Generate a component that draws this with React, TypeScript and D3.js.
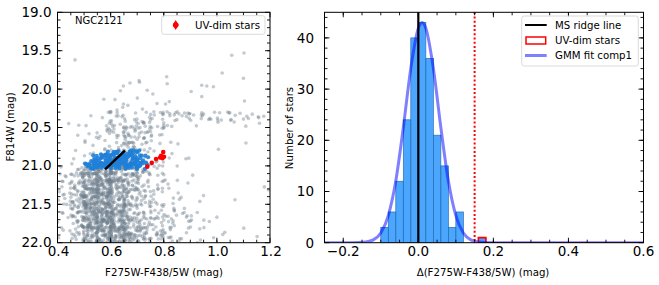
import * as d3 from "d3";
import { useEffect, useRef } from "react";

// ---------- left panel: CMD of NGC2121 ----------
// grey stars, counted per cell (left colour edge, width 0.05 / top mag edge, height 0.1)
const cmdColorBins = [0.40, 0.45, 0.50, 0.55, 0.60, 0.65, 0.70, 0.75, 0.80, 0.85, 0.90, 0.95, 1.00, 1.05, 1.10, 1.15];
const cmdMagBins = [20.0, 20.1, 20.2, 20.3, 20.4, 20.5, 20.6, 20.7, 20.8, 20.9, 21.0, 21.1, 21.2, 21.3, 21.4, 21.5, 21.6, 21.7, 21.8, 21.9];
const cmdCounts = [
  [0, 0, 0, 0, 1, 0, 1, 1, 0, 0, 1, 0, 0, 0, 0, 0],
  [0, 0, 0, 1, 2, 1, 0, 1, 1, 0, 1, 0, 0, 0, 1, 0],
  [0, 0, 0, 1, 3, 2, 1, 0, 1, 0, 0, 0, 0, 0, 0, 0],
  [0, 0, 1, 2, 4, 4, 3, 6, 9, 8, 7, 6, 5, 4, 3, 3],
  [1, 1, 1, 3, 5, 8, 10, 6, 2, 1, 1, 1, 1, 2, 1, 1],
  [0, 1, 2, 3, 6, 10, 8, 2, 0, 0, 0, 0, 0, 0, 0, 0],
  [0, 0, 2, 3, 5, 10, 7, 1, 0, 0, 0, 0, 0, 0, 0, 0],
  [0, 1, 2, 3, 8, 10, 4, 1, 1, 1, 0, 0, 1, 0, 1, 0],
  [0, 1, 3, 4, 6, 6, 3, 1, 1, 1, 0, 0, 0, 0, 0, 0],
  [0, 1, 4, 8, 8, 8, 5, 2, 3, 1, 0, 0, 0, 0, 0, 0],
  [2, 8, 26, 30, 28, 18, 7, 3, 1, 0, 0, 0, 0, 0, 0, 0],
  [3, 12, 28, 32, 26, 16, 7, 4, 2, 0, 1, 0, 0, 0, 0, 0],
  [3, 14, 30, 32, 24, 14, 7, 4, 2, 1, 0, 0, 0, 0, 0, 1],
  [3, 15, 32, 32, 22, 12, 7, 4, 2, 0, 1, 0, 0, 0, 0, 1],
  [3, 15, 32, 32, 22, 12, 7, 5, 2, 2, 1, 0, 0, 1, 0, 0],
  [2, 13, 32, 34, 24, 14, 8, 5, 3, 2, 0, 0, 0, 0, 0, 0],
  [2, 11, 30, 36, 28, 16, 9, 6, 5, 3, 2, 0, 1, 0, 0, 0],
  [2, 9, 28, 36, 30, 18, 10, 6, 5, 3, 1, 2, 0, 0, 0, 0],
  [1, 7, 26, 36, 32, 22, 12, 7, 6, 3, 1, 0, 1, 1, 0, 0],
  [1, 6, 22, 34, 34, 24, 14, 8, 6, 3, 2, 1, 1, 0, 0, 1],
];
// isolated bright stars above mag 20
const brightStars = [
  [0.466, 19.62], [0.648, 19.96], [0.673, 19.92], [0.707, 19.89], [0.709, 19.91],
  [0.811, 19.84], [0.813, 19.93], [1.056, 19.56], [1.102, 19.53], [1.02, 19.79],
  [1.1, 19.86], [0.943, 19.95], [0.962, 19.96], [0.987, 19.97],
];
// selected MS stars (blue), per cell (colour width 0.02 / mag height 0.06)
const selColorBins = [0.50, 0.52, 0.54, 0.56, 0.58, 0.60, 0.62, 0.64, 0.66, 0.68, 0.70, 0.72];
const selMagBins = [20.80, 20.86, 20.92, 20.98];
const selCounts = [
  [0, 0, 0, 2, 3, 4, 4, 4, 4, 3, 2, 0],
  [0, 1, 3, 5, 6, 6, 6, 6, 6, 5, 4, 2],
  [2, 4, 6, 6, 6, 6, 6, 6, 6, 6, 5, 3],
  [3, 5, 6, 6, 6, 6, 6, 6, 6, 6, 5, 2],
];
const uvDimStars = [
  [0.798, 20.82], [0.790, 20.87], [0.786, 20.89], [0.795, 20.90], [0.801, 20.88],
  [0.771, 20.91], [0.755, 20.96], [0.738, 21.01],
];
const ridgeLine = [[0.579, 21.044], [0.654, 20.80]];

// ---------- right panel: histogram of colour offsets ----------
const histBinStarts = [-0.10, -0.08, -0.06, -0.04, -0.02, 0.0, 0.02, 0.04, 0.06, 0.08, 0.10, 0.16];
const histCounts = [3, 6, 12, 24, 40, 43, 36, 21, 15, 3, 6, 1];
const histBinWidth = 0.02;
const uvDimBin = [0.16, 1];
const gmmX = [-0.25, -0.18, -0.16, -0.14, -0.12, -0.10, -0.08, -0.06, -0.04, -0.02, 0.0, 0.01, 0.02, 0.04, 0.06, 0.08, 0.10, 0.12, 0.14, 0.16, 0.18, 0.20, 0.6];
const gmmY = [0, 0, 0.02, 0.13, 0.55, 1.9, 5.3, 12.1, 22.5, 34.1, 41.9, 43, 41.9, 34.1, 22.5, 12.1, 5.3, 1.9, 0.55, 0.13, 0.02, 0, 0];
const msRidgeDelta = 0.0;
const uvDimCut = 0.15;

const FONT = "DejaVu Sans, sans-serif";
const TOP = 12.3;
const BOTTOM = 242.7;

// spot of the k-th star inside its cell, in [0,1)
const spot = (a: number) => {
  let h = Math.imul(a ^ 0x9e3779b9, 0x85ebca6b);
  h ^= h >>> 13;
  h = Math.imul(h, 0xc2b2ae35);
  h ^= h >>> 16;
  return (h >>> 0) / 4294967296;
};

const App = () => {
  const svgRef = useRef<SVGSVGElement>(null);

  useEffect(() => {
    if (!svgRef.current) return;
    const svg = d3.select(svgRef.current);
    svg.selectAll("*").remove();

    // ticks on all four sides, pointing inward
    const ticks = (g: any, x: any, y: any, xMaj: number[], xMin: number[], yMaj: number[], yMin: number[]) => {
      const [x0, x1] = x.range();
      const add = (v: number[], len: number, horiz: boolean) => {
        v.forEach((t) => {
          if (horiz) {
            const px = x(t);
            g.append("line").attr("x1", px).attr("x2", px).attr("y1", BOTTOM).attr("y2", BOTTOM - len);
            g.append("line").attr("x1", px).attr("x2", px).attr("y1", TOP).attr("y2", TOP + len);
          } else {
            const py = y(t);
            g.append("line").attr("x1", x0).attr("x2", x0 + len).attr("y1", py).attr("y2", py);
            g.append("line").attr("x1", x1).attr("x2", x1 - len).attr("y1", py).attr("y2", py);
          }
        });
      };
      add(xMaj, 5, true);
      add(xMin, 3, true);
      add(yMaj, 5, false);
      add(yMin, 3, false);
      g.selectAll("line").attr("stroke", "black").attr("stroke-width", 0.9);
      g.append("rect").attr("x", x0).attr("y", TOP).attr("width", x1 - x0).attr("height", BOTTOM - TOP)
        .attr("fill", "none").attr("stroke", "black").attr("stroke-width", 1);
    };

    const scatterCells = (counts: number[][], cols: number[], rows: number[], w: number, h: number, seed: number) => {
      const out: number[][] = [];
      counts.forEach((row, ri) => {
        row.forEach((n, ci) => {
          for (let k = 0; k < n; k++) {
            const key = seed + ri * 100000 + ci * 1000 + k * 2;
            out.push([cols[ci] + (spot(key) * 1.2 - 0.1) * w, rows[ri] + (spot(key + 1) * 1.2 - 0.1) * h]);
          }
        });
      });
      return out;
    };

    // ===== left panel =====
    const xL = d3.scaleLinear().domain([0.4, 1.2]).range([57.5, 270]);
    const yL = d3.scaleLinear().domain([19, 22]).range([TOP, BOTTOM]);

    svg.append("clipPath").attr("id", "clipL").append("rect")
      .attr("x", 57.5).attr("y", TOP).attr("width", 270 - 57.5).attr("height", BOTTOM - TOP);
    const left = svg.append("g").attr("clip-path", "url(#clipL)");

    const grey = brightStars.concat(scatterCells(cmdCounts, cmdColorBins, cmdMagBins, 0.05, 0.1, 7));
    left.selectAll(".grey").data(grey).enter().append("circle")
      .attr("cx", (d) => xL(d[0])).attr("cy", (d) => yL(d[1])).attr("r", 1.8)
      .attr("fill", "#708090").attr("fill-opacity", 0.42);

    const sel = scatterCells(selCounts, selColorBins, selMagBins, 0.02, 0.06, 3000000);
    left.selectAll(".sel").data(sel).enter().append("circle")
      .attr("cx", (d) => xL(d[0])).attr("cy", (d) => yL(Math.min(d[1], 21.04))).attr("r", 2.1)
      .attr("fill", "#1f7fd8").attr("fill-opacity", 0.9);

    left.append("path").datum(ridgeLine)
      .attr("d", d3.line<number[]>().x((d) => xL(d[0])).y((d) => yL(d[1])))
      .attr("stroke", "black").attr("stroke-width", 2.4).attr("fill", "none");

    left.selectAll(".uv").data(uvDimStars).enter().append("circle")
      .attr("cx", (d) => xL(d[0])).attr("cy", (d) => yL(d[1])).attr("r", 2.3).attr("fill", "red");

    const tl = svg.append("g");
    ticks(tl, xL, yL, d3.range(0.4, 1.21, 0.2), d3.range(0.45, 1.2, 0.05), d3.range(19, 22.01, 0.5), d3.range(19.1, 22, 0.1));

    const f1 = d3.format(".1f");
    [0.4, 0.6, 0.8, 1.0, 1.2].forEach((t) => {
      svg.append("text").attr("x", xL(t) + 1).attr("y", 256).attr("text-anchor", "middle")
        .attr("font-family", FONT).attr("font-size", 13.5).text(f1(t));
    });
    [19, 19.5, 20, 20.5, 21, 21.5, 22].forEach((t) => {
      svg.append("text").attr("x", 51.5).attr("y", yL(t) + 4.5).attr("text-anchor", "end")
        .attr("font-family", FONT).attr("font-size", 13.5).text(f1(t));
    });
    svg.append("text").attr("x", 164).attr("y", 276).attr("text-anchor", "middle")
      .attr("font-family", FONT).attr("font-size", 10.2).text("F275W-F438/5W (mag)");
    svg.append("text").attr("transform", "translate(14,127) rotate(-90)").attr("text-anchor", "middle")
      .attr("font-family", FONT).attr("font-size", 10.2).text("F814W (mag)");
    svg.append("text").attr("x", 75).attr("y", 24)
      .attr("font-family", FONT).attr("font-size", 10).text("NGC2121");

    // left legend
    svg.append("rect").attr("x", 161.7).attr("y", 15.7).attr("width", 103.3).attr("height", 18.6).attr("rx", 2.5)
      .attr("fill", "white").attr("fill-opacity", 0.8).attr("stroke", "#d0d0d0").attr("stroke-width", 0.8);
    svg.append("path").attr("d", d3.symbol(d3.symbolDiamond, 30)()).attr("transform", "translate(175.7,25)").attr("fill", "red");
    svg.append("circle").attr("cx", 175.7).attr("cy", 25).attr("r", 2.8).attr("fill", "red");
    svg.append("text").attr("x", 195).attr("y", 28.6).attr("font-family", FONT).attr("font-size", 10.2).text("UV-dim stars");

    // ===== right panel =====
    const xR = d3.scaleLinear().domain([-0.25, 0.6]).range([324.5, 643.5]);
    const yR = d3.scaleLinear().domain([0, 45]).range([BOTTOM, TOP]);

    svg.append("clipPath").attr("id", "clipR").append("rect")
      .attr("x", 324.5).attr("y", TOP).attr("width", 643.5 - 324.5).attr("height", BOTTOM - TOP);
    const right = svg.append("g").attr("clip-path", "url(#clipR)");

    right.selectAll(".bar").data(histBinStarts.map((s, i) => [s, histCounts[i]])).enter().append("rect")
      .attr("x", (d) => xR(d[0])).attr("width", (d) => xR(d[0] + histBinWidth) - xR(d[0]))
      .attr("y", (d) => yR(d[1])).attr("height", (d) => yR(0) - yR(d[1]))
      .attr("fill", "#1e90ff").attr("fill-opacity", 0.8).attr("stroke", "#2a6fae").attr("stroke-width", 0.7);

    // UV-dim step histogram (outline plus its baseline)
    right.append("path")
      .attr("d", d3.line()([
        [xR(uvDimBin[0]), yR(0)], [xR(uvDimBin[0]), yR(uvDimBin[1])],
        [xR(uvDimBin[0] + histBinWidth), yR(uvDimBin[1])], [xR(uvDimBin[0] + histBinWidth), yR(0)],
        [xR(0.6), yR(0)],
      ]))
      .attr("fill", "none").attr("stroke", "red").attr("stroke-width", 1.6);
    right.append("line").attr("x1", xR(uvDimBin[0])).attr("x2", xR(uvDimBin[0] + histBinWidth))
      .attr("y1", yR(0)).attr("y2", yR(0)).attr("stroke", "red").attr("stroke-width", 1.6);

    right.append("path").datum(gmmX.map((x, i) => [x, gmmY[i]]))
      .attr("d", d3.line<number[]>().x((d) => xR(d[0])).y((d) => yR(d[1])).curve(d3.curveMonotoneX))
      .attr("fill", "none").attr("stroke", "blue").attr("stroke-opacity", 0.5).attr("stroke-width", 3);

    right.append("line").attr("x1", xR(msRidgeDelta)).attr("x2", xR(msRidgeDelta)).attr("y1", TOP).attr("y2", BOTTOM)
      .attr("stroke", "black").attr("stroke-width", 2.2);
    right.append("line").attr("x1", xR(uvDimCut)).attr("x2", xR(uvDimCut)).attr("y1", TOP).attr("y2", BOTTOM)
      .attr("stroke", "red").attr("stroke-width", 2).attr("stroke-dasharray", "2,2.2");

    const tr = svg.append("g");
    ticks(tr, xR, yR, d3.range(-0.2, 0.61, 0.2), d3.range(-0.25, 0.6, 0.05), d3.range(0, 41, 10), d3.range(2, 45, 2));

    [-0.2, 0.0, 0.2, 0.4, 0.6].forEach((t) => {
      svg.append("text").attr("x", xR(t)).attr("y", 256).attr("text-anchor", "middle")
        .attr("font-family", FONT).attr("font-size", 13.5).text(f1(t));
    });
    [0, 10, 20, 30, 40].forEach((t) => {
      svg.append("text").attr("x", 314).attr("y", yR(t) + 4.8).attr("text-anchor", "end")
        .attr("font-family", FONT).attr("font-size", 13.5).text(String(t));
    });
    svg.append("text").attr("x", 483).attr("y", 276).attr("text-anchor", "middle")
      .attr("font-family", FONT).attr("font-size", 10.2).text("Δ(F275W-F438/5W) (mag)");
    svg.append("text").attr("transform", "translate(293,128) rotate(-90)").attr("text-anchor", "middle")
      .attr("font-family", FONT).attr("font-size", 10.2).text("Number of stars");

    // right legend
    svg.append("rect").attr("x", 521.7).attr("y", 16).attr("width", 116.6).attr("height", 50).attr("rx", 2.5)
      .attr("fill", "white").attr("fill-opacity", 0.8).attr("stroke", "#d0d0d0").attr("stroke-width", 0.8);
    const legendRows = [25, 40.5, 55.5];
    svg.append("line").attr("x1", 525).attr("x2", 546.7).attr("y1", legendRows[0]).attr("y2", legendRows[0])
      .attr("stroke", "black").attr("stroke-width", 2);
    svg.append("rect").attr("x", 526).attr("y", legendRows[1] - 3.5).attr("width", 19.7).attr("height", 7)
      .attr("fill", "none").attr("stroke", "red").attr("stroke-width", 1.5);
    svg.append("line").attr("x1", 525).attr("x2", 546.7).attr("y1", legendRows[2]).attr("y2", legendRows[2])
      .attr("stroke", "blue").attr("stroke-opacity", 0.5).attr("stroke-width", 3);
    ["MS ridge line", "UV-dim stars", "GMM fit comp1"].forEach((s, i) => {
      svg.append("text").attr("x", 555).attr("y", legendRows[i] + 3.6)
        .attr("font-family", FONT).attr("font-size", 10.2).text(s);
    });
  }, []);

  return (
    <svg ref={svgRef} width={659} height={285}
      style={{ position: "absolute", left: 0, top: 0, background: "white" }} />
  );
};

export default App;
